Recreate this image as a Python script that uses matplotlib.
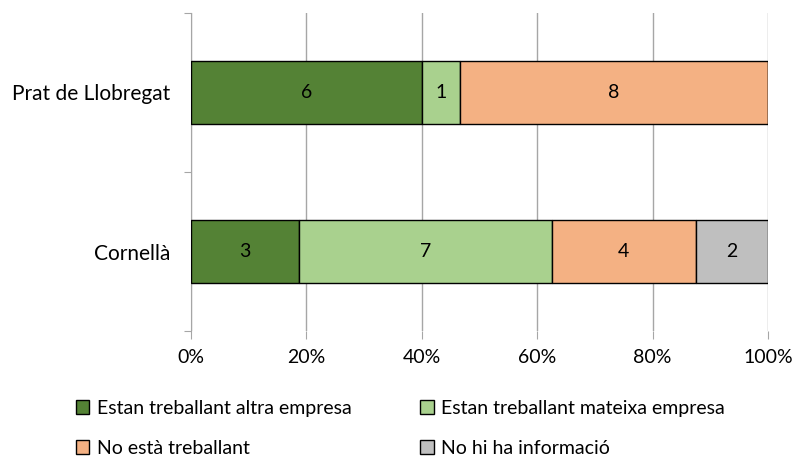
import matplotlib.pyplot as plt
import matplotlib.ticker as mticker
import numpy as np

plt.rcParams['font.family'] = ['Lato', 'DejaVu Sans']

categories = ['Cornellà', 'Prat de Llobregat']
series_names = ['Estan treballant altra empresa', 'Estan treballant mateixa empresa',
                'No està treballant', 'No hi ha informació']
altra = [3, 6]
mateixa = [7, 1]
no_treballa = [4, 8]
no_info = [2, 0]
colors = ['#548235', '#A9D18E', '#F4B183', '#BFBFBF']

counts = np.array([altra, mateixa, no_treballa, no_info], dtype=float)
totals = counts.sum(axis=0)
pct = counts / totals * 100

fig = plt.figure(figsize=(7.96, 4.59), dpi=100)
ax = fig.add_axes([191/796, 1 - 331/459, 577/796, 318/459])

ypos = np.arange(len(categories)) + 0.5
left = np.zeros(len(categories))
for i in range(len(series_names)):
    bars = ax.barh(ypos, pct[i], left=left, height=0.4, color=colors[i],
                   edgecolor='black', linewidth=1.0, label=series_names[i], zorder=3)
    for j, b in enumerate(bars):
        if counts[i, j] > 0:
            ax.text(left[j] + pct[i, j] / 2, ypos[j], '%d' % counts[i, j],
                    ha='center', va='center', fontsize=14, color='black', zorder=4)
    left += pct[i]

ax.set_xlim(0, 100)
ax.set_ylim(0, 2)
ax.xaxis.set_major_locator(mticker.MultipleLocator(20))
ax.xaxis.set_major_formatter(mticker.FuncFormatter(lambda v, p: '%d%%' % v))
ax.grid(axis='x', color='#A6A6A6', linewidth=1.0, zorder=0)
ax.tick_params(axis='x', length=6, color='#A6A6A6', labelsize=14, pad=7)

ax.set_yticks([0, 1, 2])
ax.set_yticklabels([])
ax.set_yticks(ypos, minor=True)
ax.set_yticklabels(categories, minor=True)
ax.tick_params(axis='y', which='major', length=5, color='#A6A6A6')
ax.tick_params(axis='y', which='minor', length=0, labelsize=15, pad=15)

for s in ['top', 'right', 'bottom']:
    ax.spines[s].set_visible(False)
ax.spines['left'].set_color('#A6A6A6')

# row-wise legend order: fill columns as (altra, no_treballa), (mateixa, no_info)
handles, labels = ax.get_legend_handles_labels()
order = [0, 2, 1, 3]
fig.legend([handles[k] for k in order], [labels[k] for k in order], ncol=2,
           loc='upper left', bbox_to_anchor=(66/796, 1 - 390/459), borderpad=0,
           frameon=False, fontsize=14, handlelength=0.7, handleheight=0.7,
           handletextpad=0.4, columnspacing=3.5, labelspacing=1.2)

fig.savefig('out.png', dpi=100)
